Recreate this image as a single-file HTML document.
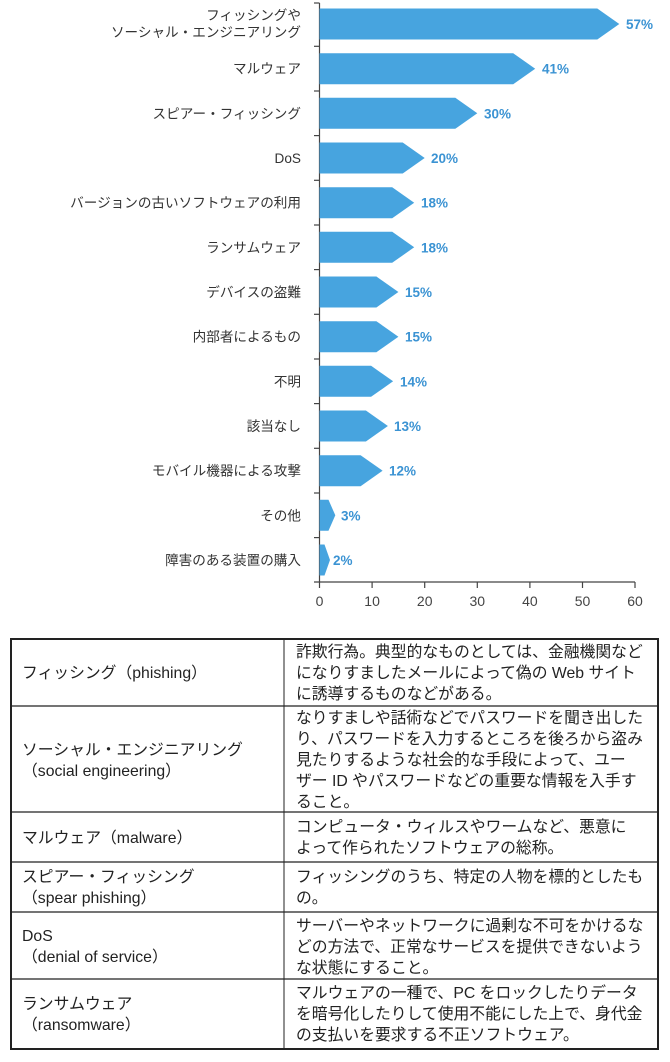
<!DOCTYPE html>
<html><head><meta charset="utf-8"><style>
html,body{margin:0;padding:0;background:#fff;}
svg{display:block;}
.l{font-family:"Liberation Sans","Noto Sans CJK JP",sans-serif;font-size:13.6px;fill:#333;}
.p{font-family:"Liberation Sans",sans-serif;font-size:13.5px;font-weight:bold;fill:#3b93d3;}
.t{font-family:"Liberation Sans","Noto Sans CJK JP",sans-serif;font-size:15.8px;fill:#222;}
</style></head><body>
<svg width="670" height="1062" xmlns="http://www.w3.org/2000/svg">
<line x1="319.5" y1="3" x2="319.5" y2="582" stroke="#444" stroke-width="1.2"/>
<line x1="314" y1="582" x2="635" y2="582" stroke="#444" stroke-width="1.2"/>
<g stroke="#444" stroke-width="1.2">
<line x1="319.5" y1="582" x2="319.5" y2="588"/>
<line x1="372.1" y1="582" x2="372.1" y2="588"/>
<line x1="424.7" y1="582" x2="424.7" y2="588"/>
<line x1="477.3" y1="582" x2="477.3" y2="588"/>
<line x1="529.9" y1="582" x2="529.9" y2="588"/>
<line x1="582.5" y1="582" x2="582.5" y2="588"/>
<line x1="635" y1="582" x2="635" y2="588"/>
</g>
<g class="l" text-anchor="middle" style="font-size:14px;fill:#444">
<text x="319.5" y="606">0</text><text x="372.1" y="606">10</text><text x="424.7" y="606">20</text>
<text x="477.3" y="606">30</text><text x="529.9" y="606">40</text><text x="582.5" y="606">50</text><text x="635" y="606">60</text>
</g>
<g stroke="#222" fill="none">
<rect x="11" y="639" width="647" height="410" stroke-width="2"/>
<line x1="284" y1="639" x2="284" y2="1049" stroke-width="1"/>
<line x1="11" y1="706" x2="658" y2="706" stroke-width="1.2"/>
<line x1="11" y1="812" x2="658" y2="812" stroke-width="1.2"/>
<line x1="11" y1="862" x2="658" y2="862" stroke-width="1.2"/>
<line x1="11" y1="912" x2="658" y2="912" stroke-width="1.2"/>
<line x1="11" y1="979" x2="658" y2="979" stroke-width="1.2"/>
</g>
<g class="t">
<text x="22" y="678">フィッシング（phishing）</text>
<text x="296" y="657">詐欺行為。典型的なものとしては、金融機関など</text>
<text x="296" y="678">になりすましたメールによって偽の Web サイト</text>
<text x="296" y="699">に誘導するものなどがある。</text>
<text x="22" y="755">ソーシャル・エンジニアリング</text>
<text x="22" y="776">（social engineering）</text>
<text x="296" y="723">なりすましや話術などでパスワードを聞き出した</text>
<text x="296" y="744">り、パスワードを入力するところを後ろから盗み</text>
<text x="296" y="765">見たりするような社会的な手段によって、ユー</text>
<text x="296" y="786">ザー ID やパスワードなどの重要な情報を入手す</text>
<text x="296" y="807">ること。</text>
<text x="22" y="843">マルウェア（malware）</text>
<text x="296" y="832">コンピュータ・ウィルスやワームなど、悪意に</text>
<text x="296" y="853">よって作られたソフトウェアの総称。</text>
<text x="22" y="882">スピアー・フィッシング</text>
<text x="22" y="903">（spear phishing）</text>
<text x="296" y="882">フィッシングのうち、特定の人物を標的としたも</text>
<text x="296" y="903">の。</text>
<text x="22" y="941">DoS</text>
<text x="22" y="962">（denial of service）</text>
<text x="296" y="931">サーバーやネットワークに過剰な不可をかけるな</text>
<text x="296" y="952">どの方法で、正常なサービスを提供できないよう</text>
<text x="296" y="973">な状態にすること。</text>
<text x="22" y="1009">ランサムウェア</text>
<text x="22" y="1030">（ransomware）</text>
<text x="296" y="998">マルウェアの一種で、PC をロックしたりデータ</text>
<text x="296" y="1019">を暗号化したりして使用不能にした上で、身代金</text>
<text x="296" y="1040">の支払いを要求する不正ソフトウェア。</text>
</g>
<g fill="#47a4df">
<polygon points="319.5,8.5 597.3,8.5 619.3,24 597.3,39.5 319.5,39.5"/>
<polygon points="319.5,53.2 513.2,53.2 535.2,68.7 513.2,84.2 319.5,84.2"/>
<polygon points="319.5,97.8 455.3,97.8 477.3,113.3 455.3,128.8 319.5,128.8"/>
<polygon points="319.5,142.5 402.7,142.5 424.7,158 402.7,173.5 319.5,173.5"/>
<polygon points="319.5,187.2 392.2,187.2 414.2,202.7 392.2,218.2 319.5,218.2"/>
<polygon points="319.5,231.8 392.2,231.8 414.2,247.3 392.2,262.8 319.5,262.8"/>
<polygon points="319.5,276.5 376.4,276.5 398.4,292 376.4,307.5 319.5,307.5"/>
<polygon points="319.5,321.2 376.4,321.2 398.4,336.7 376.4,352.2 319.5,352.2"/>
<polygon points="319.5,365.8 371.1,365.8 393.1,381.3 371.1,396.8 319.5,396.8"/>
<polygon points="319.5,410.5 365.9,410.5 387.9,426 365.9,441.5 319.5,441.5"/>
<polygon points="319.5,455.2 360.6,455.2 382.6,470.7 360.6,486.2 319.5,486.2"/>
<polygon points="319.5,499.8 328.5,499.8 335.3,515.3 328.5,530.8 319.5,530.8"/>
<polygon points="319.5,544.5 324.5,544.5 330.0,560 324.5,575.5 319.5,575.5"/>
</g>
<g stroke="#444" stroke-width="1.2">
<line x1="314" y1="3" x2="319.5" y2="3"/>
<line x1="314" y1="46.3" x2="319.5" y2="46.3"/><line x1="314" y1="91" x2="319.5" y2="91"/>
<line x1="314" y1="135.6" x2="319.5" y2="135.6"/><line x1="314" y1="180.3" x2="319.5" y2="180.3"/>
<line x1="314" y1="225" x2="319.5" y2="225"/><line x1="314" y1="269.6" x2="319.5" y2="269.6"/>
<line x1="314" y1="314.3" x2="319.5" y2="314.3"/><line x1="314" y1="359" x2="319.5" y2="359"/>
<line x1="314" y1="403.6" x2="319.5" y2="403.6"/><line x1="314" y1="448.3" x2="319.5" y2="448.3"/>
<line x1="314" y1="493" x2="319.5" y2="493"/><line x1="314" y1="537.6" x2="319.5" y2="537.6"/>
</g>
<g class="p">
<text x="626" y="29">57%</text><text x="542" y="73.7">41%</text><text x="484" y="118.3">30%</text>
<text x="431" y="163">20%</text><text x="421" y="207.7">18%</text><text x="421" y="252.3">18%</text>
<text x="405" y="297">15%</text><text x="405" y="341.7">15%</text><text x="400" y="386.3">14%</text>
<text x="394" y="431">13%</text><text x="389" y="475.7">12%</text><text x="341" y="520.3">3%</text>
<text x="333" y="565">2%</text>
</g>
<g class="l" text-anchor="end">
<text x="301" y="20">フィッシングや</text>
<text x="301" y="37">ソーシャル・エンジニアリング</text>
<text x="301" y="73.7">マルウェア</text>
<text x="301" y="118.3">スピアー・フィッシング</text>
<text x="301" y="163">DoS</text>
<text x="301" y="207.7">バージョンの古いソフトウェアの利用</text>
<text x="301" y="252.3">ランサムウェア</text>
<text x="301" y="297">デバイスの盗難</text>
<text x="301" y="341.7">内部者によるもの</text>
<text x="301" y="386.3">不明</text>
<text x="301" y="431">該当なし</text>
<text x="301" y="475.7">モバイル機器による攻撃</text>
<text x="301" y="520.3">その他</text>
<text x="301" y="565">障害のある装置の購入</text>
</g>
</svg>
</body></html>
